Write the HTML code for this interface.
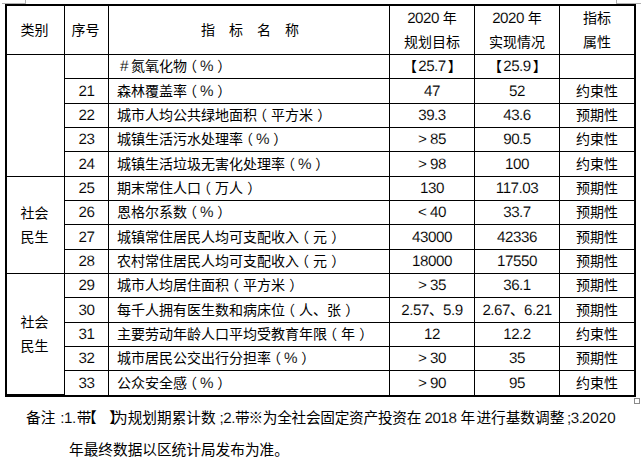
<!DOCTYPE html>
<html lang="zh-CN">
<head>
<meta charset="utf-8">
<title>指标完成情况表</title>
<style>
html,body{margin:0;padding:0;background:#fff}
body{width:644px;height:460px;overflow:hidden;position:relative;font-family:"Liberation Sans","Noto Sans CJK SC",sans-serif;color:#000}
.page{position:absolute;left:0;top:0;width:644px;height:460px;overflow:hidden}
.t{position:absolute;left:5px;top:4px;border-collapse:separate;border-spacing:0;table-layout:fixed;width:631px;border:2px solid #000;font-size:14px;line-height:16px}
.t th,.t td{box-sizing:border-box;padding:0;margin:0;border-right:1px solid #000;border-bottom:1px solid #000;text-align:center;vertical-align:top;padding-top:3px;font-weight:normal;white-space:nowrap;overflow:hidden}
.t .last{border-right:0}
.t tr.tall td,.t tr.r13 td{padding-top:4px}
.t th{vertical-align:middle;padding-top:0}
.t td.cat{vertical-align:middle;padding-top:0;padding-right:2px}
.t tr.r13 td{border-bottom:0}
.t td.name{text-align:left;padding-left:8px}
.t .h2{line-height:24px}
.t td.cat{line-height:24px}
.sp{letter-spacing:14px;position:relative;left:7px}
.t th.c1,.t th.c2{padding-right:2px}
.t th.nm{padding-left:2px}
.t td.ind{padding-left:11px}
.t td.ind .a:first-child{margin-right:3px}
.pl,.pr,.bl,.br{position:relative}
.pl + .a{margin-left:-1px}
.pl{left:-0.28em}
.pr{left:0.3em}
.bl{left:-.09em}
.br{left:.14em}
.a{-webkit-text-stroke:.1px #fff;line-height:0;font-size:1.086em;letter-spacing:-.032em;text-rendering:geometricPrecision}
.hs{letter-spacing:0}
.note{position:absolute;left:0;margin:0;width:644px;height:20px;font-size:14.67px;line-height:20px;white-space:nowrap}
.n1{top:408px}
.n2{top:440px}
.sg{position:absolute;top:0;white-space:nowrap}
.note .a{font-size:15.2px;letter-spacing:-.5px}
.note .wide .a{letter-spacing:0}
.tight{letter-spacing:-.27px}
.mk{position:absolute;background:#b0b0b0}
.mk1{left:2px;top:3px;width:24px;height:1px}
.mk2{left:25px;top:0;width:1px;height:4px}
.mk3{left:616px;top:3px;width:25px;height:1px}
.mk4{left:616px;top:0;width:1px;height:4px}
.handle{position:absolute;left:634px;top:398px;width:4px;height:4px;border:1px solid #8a8a8a;background:#fff}

</style>
</head>
<body>
<div class="page">
<div class="mk mk1"></div><div class="mk mk2"></div><div class="mk mk3"></div><div class="mk mk4"></div>
<table class="t"><colgroup><col style="width:58px"><col style="width:44px"><col style="width:281px"><col style="width:85px"><col style="width:85px"><col style="width:74px"></colgroup>
<thead><tr style="height:49px"><th class="c1">类别</th><th class="c2">序号</th><th class="nm"><span class="sp">指标名称</span></th><th class="h2"><span class="a">2020</span><span class="hs"> </span>年<br>规划目标</th><th class="h2"><span class="a">2020</span><span class="hs"> </span>年<br>实现情况</th><th class="h2 last">指标<br>属性</th></tr></thead><tbody>
<tr style="height:24px" class="r0"><td class="cat" rowspan="5"></td><td class="no"></td><td class="name ind"><span class="a">#</span>氮氧化物<span class="pl">（</span><span class="a">%</span><span class="pr">）</span></td><td><span class="bl">【</span><span class="a">25.7</span><span class="br">】</span></td><td><span class="bl">【</span><span class="a">25.9</span><span class="br">】</span></td><td class="last"></td></tr>
<tr style="height:25px" class="r1 tall"><td class="no"><span class="a">21</span></td><td class="name">森林覆盖率<span class="pl">（</span><span class="a">%</span><span class="pr">）</span></td><td><span class="a">47</span></td><td><span class="a">52</span></td><td class="last">约束性</td></tr>
<tr style="height:24px" class="r2"><td class="no"><span class="a">22</span></td><td class="name">城市人均公共绿地面积<span class="pl">（</span>平方米<span class="pr">）</span></td><td><span class="a">39.3</span></td><td><span class="a">43.6</span></td><td class="last">预期性</td></tr>
<tr style="height:24px" class="r3"><td class="no"><span class="a">23</span></td><td class="name">城镇生活污水处理率<span class="pl">（</span><span class="a">%</span><span class="pr">）</span></td><td><span class="a">&gt; 85</span></td><td><span class="a">90.5</span></td><td class="last">约束性</td></tr>
<tr style="height:25px" class="r4 tall"><td class="no"><span class="a">24</span></td><td class="name">城镇生活垃圾无害化处理率<span class="pl">（</span><span class="a">%</span><span class="pr">）</span></td><td><span class="a">&gt; 98</span></td><td><span class="a">100</span></td><td class="last">约束性</td></tr>
<tr style="height:24px" class="r5"><td class="cat" rowspan="4">社会<br>民生</td><td class="no"><span class="a">25</span></td><td class="name">期末常住人口<span class="pl">（</span>万人<span class="pr">）</span></td><td><span class="a">130</span></td><td><span class="a">117.03</span></td><td class="last">预期性</td></tr>
<tr style="height:24px" class="r6"><td class="no"><span class="a">26</span></td><td class="name">恩格尔系数<span class="pl">（</span><span class="a">%</span><span class="pr">）</span></td><td><span class="a">&lt; 40</span></td><td><span class="a">33.7</span></td><td class="last">预期性</td></tr>
<tr style="height:25px" class="r7 tall"><td class="no"><span class="a">27</span></td><td class="name">城镇常住居民人均可支配收入<span class="pl">（</span>元<span class="pr">）</span></td><td><span class="a">43000</span></td><td><span class="a">42336</span></td><td class="last">预期性</td></tr>
<tr style="height:24px" class="r8"><td class="no"><span class="a">28</span></td><td class="name">农村常住居民人均可支配收入<span class="pl">（</span>元<span class="pr">）</span></td><td><span class="a">18000</span></td><td><span class="a">17550</span></td><td class="last">预期性</td></tr>
<tr style="height:24px" class="r9"><td class="cat" rowspan="5">社会<br>民生</td><td class="no"><span class="a">29</span></td><td class="name">城市人均居住面积<span class="pl">（</span>平方米<span class="pr">）</span></td><td><span class="a">&gt; 35</span></td><td><span class="a">36.1</span></td><td class="last">预期性</td></tr>
<tr style="height:25px" class="r10 tall"><td class="no"><span class="a">30</span></td><td class="name">每千人拥有医生数和病床位<span class="pl">（</span>人、张<span class="pr">）</span></td><td><span class="a">2.57</span>、<span class="a">5.9</span></td><td><span class="a">2.67</span>、<span class="a">6.21</span></td><td class="last">预期性</td></tr>
<tr style="height:24px" class="r11"><td class="no"><span class="a">31</span></td><td class="name">主要劳动年龄人口平均受教育年限<span class="pl">（</span>年<span class="pr">）</span></td><td><span class="a">12</span></td><td><span class="a">12.2</span></td><td class="last">约束性</td></tr>
<tr style="height:24px" class="r12"><td class="no"><span class="a">32</span></td><td class="name">城市居民公交出行分担率<span class="pl">（</span><span class="a">%</span><span class="pr">）</span></td><td><span class="a">&gt; 30</span></td><td><span class="a">35</span></td><td class="last">预期性</td></tr>
<tr style="height:24px" class="r13"><td class="no"><span class="a">33</span></td><td class="name">公众安全感<span class="pl">（</span><span class="a">%</span><span class="pr">）</span></td><td><span class="a">&gt; 90</span></td><td><span class="a">95</span></td><td class="last">约束性</td></tr>
</tbody></table>
<p class="note n1"><span class="sg" style="left:26px">备注</span><span class="sg" style="left:60.3px"><span class="a">:1.</span></span><span class="sg" style="left:76.8px">带</span><span class="sg" style="left:83.2px"><span class="bl">【</span></span><span class="sg" style="left:107.2px"><span class="br">】</span></span><span class="sg" style="left:113px">为规划期累计数</span><span class="sg" style="left:219.6px"><span class="a">;2.</span></span><span class="sg" style="left:235px">带</span><span class="sg" style="left:248.6px">※</span><span class="sg tight" style="left:262.8px">为全社会固定资产投资在</span><span class="sg" style="left:424.6px"><span class="a">2018</span></span><span class="sg" style="left:460.6px">年</span><span class="sg" style="left:476.4px">进行基数调整</span><span class="sg" style="left:567.1px"><span class="a">;3.</span></span><span class="sg wide" style="left:581.8px"><span class="a">2020</span></span></p><p class="note n2"><span class="sg" style="left:69px">年最终数据以区统计局发布为准。</span></p>
<div class="handle"></div>
</div>
</body>
</html>
